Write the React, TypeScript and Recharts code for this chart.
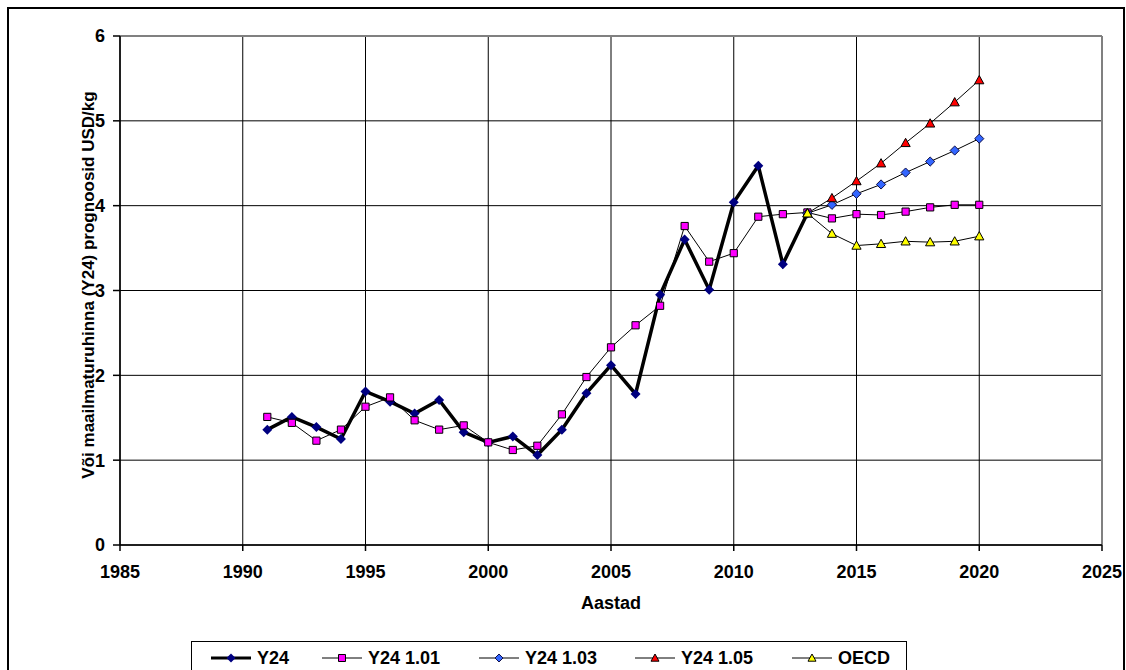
import React from "react";
import { LineChart, Line, XAxis, YAxis, CartesianGrid, ReferenceLine } from "recharts";

// years on the x axis
const years = [
  1991, 1992, 1993, 1994, 1995, 1996, 1997, 1998, 1999, 2000,
  2001, 2002, 2003, 2004, 2005, 2006, 2007, 2008, 2009, 2010,
  2011, 2012, 2013, 2014, 2015, 2016, 2017, 2018, 2019, 2020,
];

// USD/kg
const y24 = [
  1.36, 1.51, 1.39, 1.25, 1.81, 1.69, 1.55, 1.71, 1.33, 1.21,
  1.28, 1.06, 1.36, 1.79, 2.12, 1.78, 2.95, 3.6, 3.01, 4.04,
  4.47, 3.31, 3.91, null, null, null, null, null, null, null,
];
const y24_101 = [
  1.51, 1.44, 1.23, 1.36, 1.63, 1.74, 1.47, 1.36, 1.41, 1.21,
  1.12, 1.17, 1.54, 1.98, 2.33, 2.59, 2.82, 3.76, 3.34, 3.44,
  3.87, 3.9, 3.92, 3.85, 3.9, 3.89, 3.93, 3.98, 4.01, 4.01,
];
const y24_103 = [
  null, null, null, null, null, null, null, null, null, null,
  null, null, null, null, null, null, null, null, null, null,
  null, null, 3.91, 4.01, 4.14, 4.25, 4.39, 4.52, 4.65, 4.79,
];
const y24_105 = [
  null, null, null, null, null, null, null, null, null, null,
  null, null, null, null, null, null, null, null, null, null,
  null, null, 3.91, 4.09, 4.29, 4.5, 4.74, 4.97, 5.22, 5.48,
];
const oecd = [
  null, null, null, null, null, null, null, null, null, null,
  null, null, null, null, null, null, null, null, null, null,
  null, null, 3.91, 3.67, 3.53, 3.55, 3.58, 3.57, 3.58, 3.64,
];

const xTicks = [1985, 1990, 1995, 2000, 2005, 2010, 2015, 2020, 2025];
const yTicks = [0, 1, 2, 3, 4, 5, 6];

const data = years.map((year, i) => ({
  year,
  y24: y24[i],
  y24_101: y24_101[i],
  y24_103: y24_103[i],
  y24_105: y24_105[i],
  oecd: oecd[i],
}));

const FONT = "Arial, 'Liberation Sans', sans-serif";

type Shape = "diamond" | "square" | "triangle";

function markerPath(shape: Shape, cx: number, cy: number, r: number) {
  if (shape === "diamond") return `M${cx},${cy - r}L${cx + r},${cy}L${cx},${cy + r}L${cx - r},${cy}Z`;
  if (shape === "square") return `M${cx - r},${cy - r}H${cx + r}V${cy + r}H${cx - r}Z`;
  return `M${cx},${cy - r}L${cx + r},${cy + r * 0.8}L${cx - r},${cy + r * 0.8}Z`;
}

function makeDot(shape: Shape, fill: string, stroke: string, r: number) {
  return (props: any) => {
    const { cx, cy, index, value } = props;
    if (cx == null || cy == null || value == null || Number.isNaN(cy)) return <g key={`e${index}`} />;
    return <path key={`d${index}`} d={markerPath(shape, cx, cy, r)} fill={fill} stroke={stroke} strokeWidth={stroke === "none" ? 0 : 1} />;
  };
}

const series = [
  { key: "y24", name: "Y24", width: 3.5, shape: "diamond" as Shape, fill: "#000080", stroke: "none", r: 5, lr: 4.5 },
  { key: "y24_101", name: "Y24 1.01", width: 1, shape: "square" as Shape, fill: "#ff00ff", stroke: "#000", r: 3.6, lr: 3.5 },
  { key: "y24_103", name: "Y24 1.03", width: 1, shape: "diamond" as Shape, fill: "#3366ff", stroke: "#10104a", r: 4.6, lr: 4 },
  { key: "y24_105", name: "Y24 1.05", width: 1, shape: "triangle" as Shape, fill: "#ff0000", stroke: "#000", r: 4.6, lr: 4 },
  { key: "oecd", name: "OECD", width: 1, shape: "triangle" as Shape, fill: "#ffff00", stroke: "#000", r: 4.6, lr: 4 },
];

const legendX = [19, 130, 287, 443, 600];

function ChartLegend() {
  return (
    <div
      style={{
        position: "absolute",
        left: 191,
        top: 641,
        width: 716,
        height: 60,
        border: "1.5px solid #000",
        boxSizing: "border-box",
        background: "#fff",
      }}
    >
      {series.map((s, i) => (
        <div
          key={s.key}
          style={{ position: "absolute", left: legendX[i], top: 4, display: "flex", alignItems: "center", height: 24 }}
        >
          <svg width={40} height={20}>
            <line x1={0} y1={10} x2={40} y2={10} stroke="#000" strokeWidth={s.width === 1 ? 1 : 3} />
            <path d={markerPath(s.shape, 20, 10, s.lr)} fill={s.fill} stroke={s.stroke} strokeWidth={s.stroke === "none" ? 0 : 1} />
          </svg>
          <span style={{ marginLeft: 6, fontFamily: FONT, fontWeight: "bold", fontSize: 18, color: "#000" }}>{s.name}</span>
        </div>
      ))}
    </div>
  );
}

export default function App() {
  const tick = { fill: "#000", fontSize: 18, fontWeight: "bold", fontFamily: FONT };
  return (
    <div style={{ position: "absolute", left: 0, top: 0, width: 1126, height: 670, overflow: "hidden", background: "#fff" }}>
      <div
        style={{
          position: "absolute",
          left: 7,
          top: 7,
          width: 1118,
          height: 720,
          border: "2px solid #000",
          boxSizing: "border-box",
        }}
      />
      <LineChart width={1126} height={670} data={data} margin={{ top: 36, right: 24, left: 0, bottom: 85 }}>
        <CartesianGrid stroke="#000" strokeWidth={1} />
        <ReferenceLine y={6} stroke="#808080" strokeWidth={2} />
        <ReferenceLine x={2025} stroke="#808080" strokeWidth={2} />
        <XAxis
          dataKey="year"
          type="number"
          domain={[1985, 2025]}
          ticks={xTicks}
          height={40}
          tick={tick}
          tickSize={6}
          tickMargin={14}
          stroke="#000"
          strokeWidth={1.5}
          label={{
            content: () => (
              <text x={611} y={609} textAnchor="middle" fontFamily={FONT} fontWeight="bold" fontSize={18} fill="#000">
                Aastad
              </text>
            ),
          }}
        />
        <YAxis
          type="number"
          domain={[0, 6]}
          ticks={yTicks}
          width={120}
          tick={tick}
          tickSize={7}
          tickMargin={8}
          stroke="#000"
          strokeWidth={1.5}
          label={{
            content: () => (
              <text
                x={88}
                y={285}
                transform="rotate(-90, 88, 285)"
                textAnchor="middle"
                dominantBaseline="central"
                fontFamily={FONT}
                fontWeight="bold"
                fontSize={17}
                fill="#000"
              >
                Või maailmaturuhinna (Y24) prognoosid USD/kg
              </text>
            ),
          }}
        />
        {series.map((s) => (
          <Line
            key={s.key}
            dataKey={s.key}
            name={s.name}
            type="linear"
            stroke="#000"
            strokeWidth={s.width}
            dot={makeDot(s.shape, s.fill, s.stroke, s.r)}
            activeDot={false}
            connectNulls={false}
            isAnimationActive={false}
          />
        ))}
      </LineChart>
      <ChartLegend />
    </div>
  );
}
